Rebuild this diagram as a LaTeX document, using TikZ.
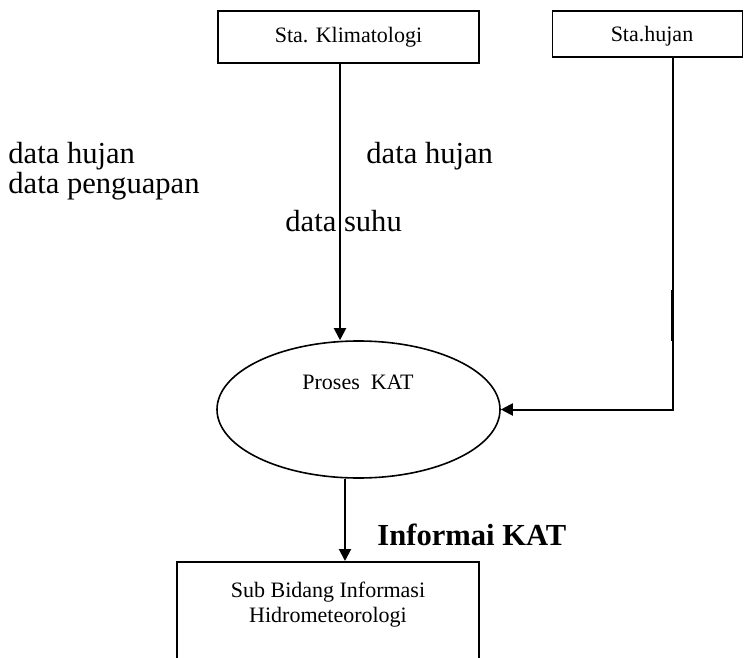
\documentclass[tikz,border=0pt]{standalone}
\usepackage{fontspec}
\setmainfont{Liberation Serif}
\usetikzlibrary{arrows.meta,shapes.geometric}
\tikzset{
  flow/.style={line width=1pt,-{Triangle[length=6pt,width=6pt]}},
  entity/.style={draw,line width=0.8pt,inner sep=0pt,font=\fontsize{11}{13}\selectfont},
  process/.style={draw,ellipse,line width=0.8pt,inner sep=0pt},
  small/.style={font=\fontsize{11}{13}\selectfont,inner sep=0pt},
  big/.style={font=\fontsize{15.3}{15}\selectfont,inner sep=0pt,anchor=base west}
}
\begin{document}
\begin{tikzpicture}[x=0.5pt,y=-0.5pt]
\useasboundingbox (0,0) rectangle (744,658);
% external entities
\node[entity,minimum width=130.5pt,minimum height=26pt] (klim) at (348.5,37) {Sta. Klimatologi};
\node[entity,minimum width=95pt,minimum height=23pt] (hujan) at (647.5,34) {};
\node[small] (hujanlbl) at (652,36) {Sta.hujan};
% process
\node[process,minimum width=141.5pt,minimum height=68.5pt] (proses) at (358.5,409.5) {};
\node[small] (proseslbl) at (358,382) {Proses~~KAT};
% destination (runs past the lower edge)
\node[draw,line width=0.8pt,minimum width=151pt,minimum height=80pt,anchor=north,inner sep=0pt] (sub) at (328,561) {};
\node[small,align=center,anchor=north] (sublbl) at (328,582) {Sub Bidang Informasi\\[-0.5pt]Hidrometeorologi};
% connector columns
\coordinate (kx) at (340,0);
\coordinate (hx) at (673,0);
\coordinate (bx) at (345,0);
\draw[flow] (klim.south -| kx) -- (proses.north -| kx);
\draw[flow] (hujan.south -| hx) |- (proses.east);
\draw[line width=1.4pt] (672,290) -- (672,341);
\draw[flow] (proses.south -| bx) -- (sub.north -| bx);
% flow labels
\node[big] (l1) at (8,163) {data hujan};
\node[big] (l2) at (8,193) {data penguapan};
\node[big] (l3) at (366,163) {data hujan};
\node[big] (l4) at (285,231) {data suhu};
\node[big,font=\fontsize{15.3}{15}\selectfont\bfseries] (l5) at (377,545) {Informai KAT};
\end{tikzpicture}
\end{document}
